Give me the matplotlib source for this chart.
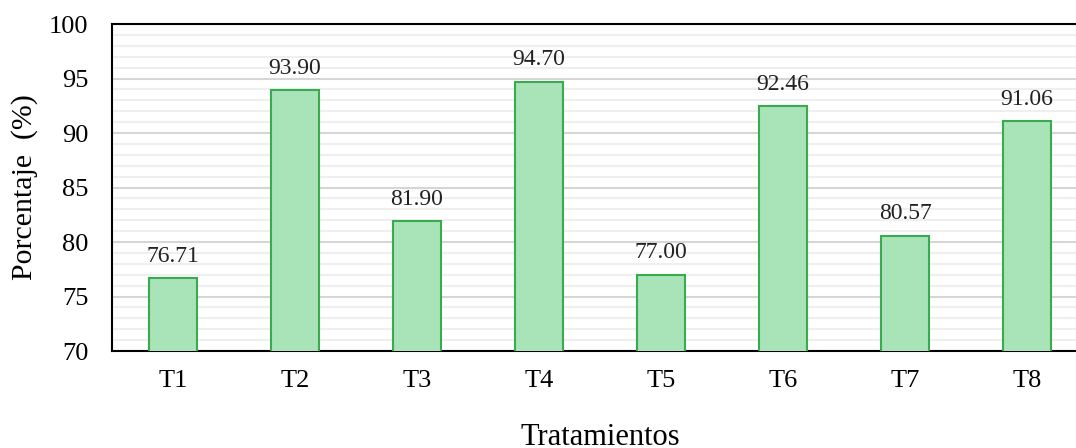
import matplotlib.pyplot as plt
import numpy as np

categories = ["T1", "T2", "T3", "T4", "T5", "T6", "T7", "T8"]
values = [76.71, 93.90, 81.90, 94.70, 77.00, 92.46, 80.57, 91.06]

plt.rcParams["font.family"] = ["Liberation Serif", "DejaVu Serif"]

fig = plt.figure(figsize=(10.76, 4.48), dpi=100)
ax = fig.add_axes([112 / 1076, 1 - 351 / 448, 976 / 1076, 327 / 448])

x = np.arange(len(categories))
ax.bar(x, values, width=0.4, bottom=0, color="#a8e4b8", edgecolor="#3aaa50",
       linewidth=1.5, zorder=3)

for xi, v in zip(x, values):
    ax.text(xi, v + 1.5, f"{v:.2f}", ha="center", va="baseline", fontsize=17,
            color="#222222", zorder=4)

ax.set_xlim(-0.5, len(categories) - 0.5)
ax.set_ylim(70, 100)
ax.set_yticks(range(70, 101, 5))
ax.set_yticks(range(70, 101, 1), minor=True)
ax.grid(axis="y", which="major", color="#d6d6d6", linewidth=1.5, zorder=0)
ax.grid(axis="y", which="minor", color="#efefef", linewidth=1.5, zorder=0)
ax.set_xticks(x)
ax.set_xticklabels(categories)
ax.tick_params(axis="both", which="both", length=0, labelsize=19)
ax.tick_params(axis="x", pad=14)
ax.tick_params(axis="y", pad=17)

for s in ["left", "top", "bottom", "right"]:
    ax.spines[s].set_color("black")
    ax.spines[s].set_linewidth(1.5)

ax.set_ylabel("Porcentaje  (%)", fontsize=21.5, labelpad=8)
ax.set_xlabel("Tratamientos", fontsize=22, labelpad=22)

fig.savefig("out.png", dpi=100)
